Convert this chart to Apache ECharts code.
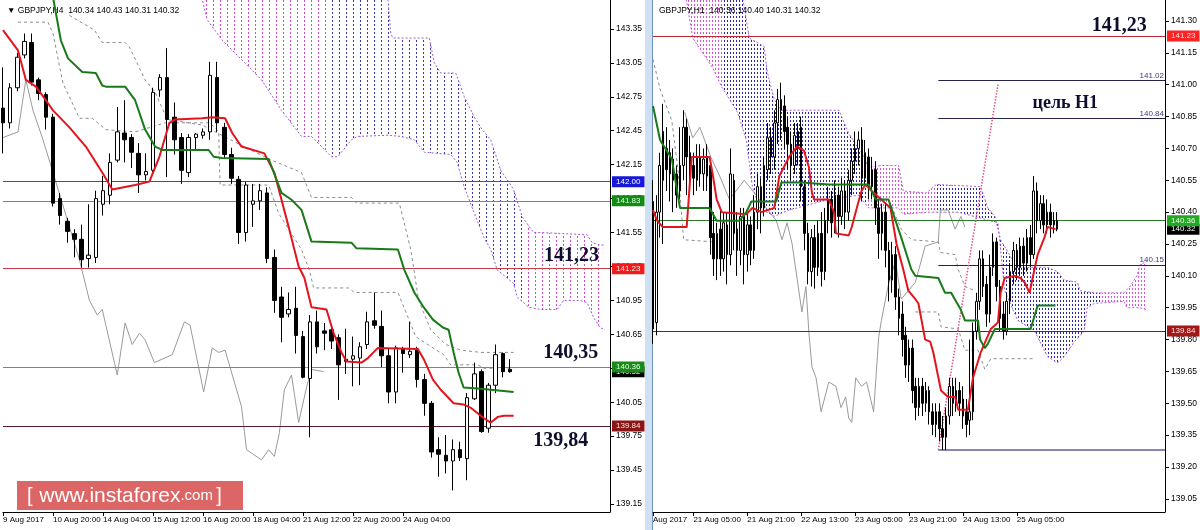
<!DOCTYPE html>
<html><head><meta charset="utf-8">
<script src="https://cdn.jsdelivr.net/npm/echarts@6/dist/echarts.min.js"></script>
<style>html,body{margin:0;padding:0;background:#fff}#c{width:1200px;height:530px}</style>
</head><body><div id="c"></div>
<script>
// ---------- LEFT PANEL (H4) ----------
const leftTickIdx = [0,7,14,21,28,35,42,49,56];
const leftTickText = ['9 Aug 2017','10 Aug 20:00','14 Aug 04:00','15 Aug 12:00','16 Aug 20:00','18 Aug 04:00','21 Aug 12:00','22 Aug 20:00','24 Aug 04:00'];
const leftYTicks = [139.15,139.45,139.75,140.05,140.35,140.65,140.95,141.25,141.55,141.85,142.15,142.45,142.75,143.05,143.35];
// [open, close, low, high]
const leftCandles = [
[142.65,142.52,142.25,143.01],[142.52,142.83,142.47,142.87],[142.83,143.10,142.80,143.14],[143.12,143.24,143.09,143.31],
[143.23,142.88,142.85,143.31],[142.90,142.78,142.72,142.92],[142.77,142.57,142.46,142.79],[142.57,141.81,141.78,142.60],
[141.85,141.70,141.62,141.90],[141.65,141.56,141.46,141.68],[141.54,141.49,141.33,141.58],[141.49,141.31,141.24,141.62],
[141.32,141.35,141.24,141.80],[141.33,141.85,141.28,141.92],[141.80,141.92,141.70,142.05],[141.88,142.17,141.80,142.25],
[142.19,142.44,142.17,142.66],[142.43,142.37,142.17,142.72],[142.39,142.26,142.12,142.42],[142.25,142.06,141.90,142.34],
[142.06,142.09,142.01,142.25],[142.10,142.79,142.08,142.83],[142.81,142.92,142.75,142.95],[142.92,142.55,142.04,143.18],
[142.57,142.37,142.24,142.70],[142.39,142.10,141.98,142.43],[142.08,142.39,142.04,142.42],[142.39,142.42,142.28,142.43],
[142.41,142.44,142.38,142.47],[142.44,142.94,142.37,143.06],[142.92,142.52,142.44,143.06],[142.48,142.24,142.20,142.52],
[142.24,142.03,141.98,142.30],[142.02,141.55,141.45,142.05],[141.55,141.97,141.47,142.00],[141.80,141.83,141.60,141.98],
[141.83,141.92,141.75,141.98],[141.90,141.32,141.28,141.95],[141.33,140.95,140.84,141.40],[140.98,140.80,140.58,141.07],
[140.83,140.87,140.80,141.02],[140.88,140.64,140.48,141.07],[140.63,140.27,140.26,140.68],[140.26,140.76,139.74,140.82],
[140.76,140.54,140.48,140.86],[140.68,140.66,140.51,140.75],[140.69,140.59,140.52,140.72],[140.62,140.38,140.07,140.65],
[140.41,140.43,140.30,140.70],[140.43,140.46,140.19,140.63],[140.44,140.54,140.20,140.58],[140.56,140.76,140.52,140.85],
[140.77,140.73,140.70,141.02],[140.72,140.46,140.36,140.86],[140.46,140.14,140.04,140.52],[140.14,140.53,140.04,140.55],
[140.52,140.48,140.31,140.54],[140.47,140.50,140.44,140.76],[140.51,140.25,140.18,140.54],[140.25,140.04,139.93,140.30],
[140.04,139.61,139.56,140.06],[139.63,139.59,139.39,139.74],[139.58,139.53,139.42,139.76],[139.53,139.63,139.27,139.72],
[139.63,139.56,139.53,139.70],[139.55,140.09,139.36,140.13],[140.08,140.30,140.07,140.40],[140.32,139.79,139.78,140.34],
[139.82,140.20,139.78,140.22],[140.20,140.47,140.13,140.56],[140.48,140.32,140.27,140.49],[140.34,140.32,140.31,140.43]
];
const leftTenkan = [[0,143.34],[2.1,143.16],[3.2,142.90],[4.6,142.84],[6.0,142.72],[7.0,142.63],[9.3,142.48],[11.6,142.31],[13.9,142.08],[15.3,141.93],[18.5,141.97],[20.5,142.00],[21.9,142.22],[23.3,142.52],[24.1,142.55],[27.9,142.56],[29.3,142.57],[31.1,142.56],[32.1,142.43],[33.4,142.31],[36.6,142.25],[38.0,142.08],[39.0,141.84],[40.0,141.60],[41.4,141.25],[42.2,141.15],[43.2,140.89],[45.3,140.87],[46.3,140.66],[47.4,140.49],[48.1,140.41],[50.2,140.40],[51.1,140.44],[52.5,140.53],[58.1,140.52],[59.0,140.42],[60.2,140.25],[61.3,140.16],[63.1,140.04],[64.5,140.03],[65.5,140.00],[67.3,139.91],[68.3,139.87],[69.3,139.92],[70.1,139.93],[71.5,139.93]];
const leftKijun = [[6.8,143.70],[8.1,143.25],[9.1,143.09],[11.1,142.97],[13.0,142.96],[13.9,142.85],[14.4,142.84],[17.1,142.84],[18.5,142.72],[19.9,142.46],[21.3,142.31],[22.3,142.28],[28.8,142.28],[29.5,142.22],[30.7,142.21],[37.2,142.20],[39.0,141.90],[40.4,141.84],[41.8,141.75],[43.2,141.47],[48.8,141.46],[49.5,141.41],[55.3,141.40],[56.2,141.22],[57.6,141.02],[58.9,140.89],[60.2,140.78],[61.6,140.71],[62.4,140.69],[63.1,140.49],[63.8,140.31],[64.5,140.18],[66.5,140.17],[68.3,140.16],[71.5,140.14]];
const leftChikou = [[0,142.39],[2.1,142.44],[3.2,142.90],[4.2,142.63],[5.6,142.37],[7.0,142.08],[10.7,141.31],[12.1,140.95],[13.2,140.82],[13.9,140.87],[16.0,140.29],[17.1,140.75],[18.1,140.56],[19.1,140.66],[19.9,140.60],[21.2,140.40],[23.7,140.47],[25.4,140.76],[26.2,140.73],[28.1,140.14],[29.3,140.53],[30.2,140.49],[31.1,140.51],[33.4,140.01],[34.1,139.63],[36.2,139.54],[37.2,139.63],[38.0,139.57],[38.7,139.78],[39.4,140.16],[40.4,140.29],[41.4,139.87],[42.5,140.18],[43.2,140.34],[44.9,140.32]];
const leftDashA = [[2.1,143.41],[6.3,143.41],[7.0,143.31],[8.4,142.87],[10.7,142.56],[12.5,142.56],[14.4,142.46],[18.5,142.44],[22.7,142.52],[29.0,142.52],[30.2,142.44],[30.4,141.97],[37.2,141.97],[38.6,141.72],[41.8,141.40],[42.9,141.22],[43.5,141.06],[48.4,141.06],[49.2,141.02],[55.3,141.02],[56.2,140.88],[57.8,140.63],[58.5,140.60],[61.7,140.47],[62.7,140.38],[66.5,140.38],[67.3,140.35],[71.5,140.35]];
const leftDashB = [[9.3,143.47],[12.8,143.34],[13.9,143.23],[17.1,143.23],[17.7,143.19],[19.9,142.90],[21.3,142.79],[23.0,142.55],[27.9,142.50],[33.4,142.32],[37.6,142.19],[41.8,142.08],[43.2,141.86],[48.8,141.86],[49.5,141.81],[55.5,141.81],[57.1,141.40],[58.2,140.95],[59.9,140.69],[62.0,140.56],[64.1,140.51],[66.9,140.49],[71.5,140.49]];
const leftKumoUpper = [[27.5,143.95],[53.5,143.95],[53.9,143.61],[54.3,143.31],[54.6,143.27],[59.7,143.27],[60.4,143.05],[61.3,142.96],[63.4,142.96],[64.6,142.75],[66.0,142.57],[67.1,142.46],[68.3,142.37],[69.7,142.10],[70.8,142.00],[71.5,141.93],[72.7,141.69],[74.3,141.55],[75.3,141.55],[81.8,141.53],[82.5,141.46],[83.6,141.44],[84.3,141.44]];
const leftKumoLower = [[27.5,143.95],[27.9,143.61],[28.6,143.43],[30.7,143.25],[33.4,143.08],[36.2,142.90],[39.0,142.63],[41.8,142.40],[43.2,142.40],[44.6,142.31],[46.0,142.22],[46.9,142.22],[48.8,142.37],[49.7,142.40],[53.9,142.41],[55.7,142.40],[57.6,142.37],[59.0,142.26],[62.7,142.24],[63.6,142.17],[64.6,141.95],[66.0,141.72],[67.4,141.50],[68.3,141.40],[69.2,141.22],[71.5,141.10],[72.0,140.98],[73.6,140.89],[75.3,140.87],[77.6,140.87],[78.5,140.95],[80.8,140.95],[81.8,140.93],[82.7,140.80],[83.6,140.71],[84.3,140.69]];
const leftKumoSegs = [[27,46,'m'],[46,73,'b'],[73,86,'m']];
const leftLevels = [142.00,141.83,141.23,140.32,140.36,139.84];

// ---------- RIGHT PANEL (H1) ----------
const rightTickIdx = [0,12,28,44,60,76,92,108];
const rightTickText = ['Aug 2017','21 Aug 05:00','21 Aug 21:00','22 Aug 13:00','23 Aug 05:00','23 Aug 21:00','24 Aug 13:00','25 Aug 05:00'];
const rightYTicks = [139.05,139.20,139.35,139.50,139.65,139.80,139.95,140.10,140.25,140.40,140.55,140.70,140.85,141.00,141.15,141.30];
const rightCandles = [
[140.45,139.85,139.78,140.55],[139.88,140.40,139.82,140.48],[140.40,140.62,140.28,140.68],[140.78,140.55,140.25,140.91],
[140.70,140.60,140.50,140.80],[140.58,140.68,140.45,140.74],[140.65,140.55,140.40,140.70],[140.58,140.48,140.42,140.62],
[140.50,140.62,140.46,140.80],[140.62,140.80,140.55,140.88],[140.80,140.66,140.48,140.84],[140.68,140.60,140.52,140.76],
[140.62,140.56,140.48,140.68],[140.55,140.66,140.50,140.72],[140.66,140.58,140.52,140.72],[140.58,140.65,140.50,140.70],
[140.66,140.57,140.50,140.72],[140.62,140.28,140.20,140.65],[140.30,140.18,140.10,140.40],[140.18,140.30,140.08,140.35],
[140.32,140.18,140.10,140.42],[140.18,140.35,140.12,140.40],[140.34,140.20,140.06,140.40],[140.20,140.58,140.15,140.70],
[140.55,140.30,140.22,140.58],[140.32,140.22,140.10,140.40],[140.22,140.38,140.15,140.42],[140.38,140.20,140.06,140.42],
[140.20,140.34,140.12,140.40],[140.34,140.22,140.15,140.38],[140.22,140.40,140.18,140.48],[140.40,140.52,140.32,140.58],
[140.52,140.42,140.30,140.56],[140.42,140.62,140.38,140.66],[140.60,140.75,140.55,140.82],[140.75,140.66,140.58,140.80],
[140.66,140.82,140.60,140.88],[140.82,140.93,140.72,140.98],[140.93,140.88,140.74,141.01],[140.90,140.78,140.70,140.95],
[140.80,140.72,140.60,140.85],[140.72,140.62,140.55,140.78],[140.62,140.76,140.58,140.82],[140.78,140.70,140.62,140.82],
[140.80,140.52,140.45,140.85],[140.52,140.30,140.22,140.55],[140.30,140.12,140.06,140.35],[140.12,140.28,140.05,140.32],
[140.28,140.14,140.04,140.34],[140.14,140.30,140.10,140.36],[140.30,140.12,140.05,140.40],[140.12,140.36,140.08,140.42],
[140.36,140.46,140.30,140.52],[140.46,140.35,140.28,140.50],[140.35,140.48,140.30,140.55],[140.48,140.38,140.28,140.52],
[140.38,140.50,140.34,140.56],[140.50,140.40,140.32,140.55],[140.40,140.55,140.36,140.60],[140.55,140.64,140.48,140.70],
[140.64,140.70,140.58,140.78],[140.70,140.74,140.62,140.78],[140.74,140.56,140.45,140.80],[140.56,140.68,140.52,140.74],
[140.66,140.52,140.46,140.70],[140.52,140.60,140.46,140.66],[140.60,140.42,140.34,140.64],[140.42,140.30,140.18,140.46],
[140.30,140.40,140.22,140.44],[140.40,140.22,140.14,140.44],[140.22,140.08,139.98,140.26],[140.08,140.20,140.02,140.26],
[140.20,140.00,139.94,140.24],[140.00,139.90,139.82,140.04],[139.92,139.80,139.72,139.98],[139.82,139.68,139.62,139.86],
[139.68,139.76,139.60,139.80],[139.76,139.56,139.50,139.80],[139.58,139.48,139.42,139.62],[139.48,139.58,139.44,139.62],
[139.58,139.50,139.44,139.62],[139.50,139.56,139.46,139.60],[139.56,139.46,139.40,139.58],[139.46,139.40,139.35,139.50],
[139.40,139.46,139.34,139.50],[139.46,139.38,139.32,139.50],[139.38,139.34,139.28,139.44],[139.34,139.44,139.28,139.48],
[139.44,139.58,139.40,139.62],[139.58,139.50,139.44,139.62],[139.50,139.56,139.46,139.62],[139.56,139.50,139.44,139.60],
[139.52,139.44,139.38,139.58],[139.46,139.40,139.34,139.52],[139.42,139.46,139.35,139.80],[139.46,139.84,139.42,139.88],
[139.84,139.98,139.80,140.02],[139.98,140.18,139.94,140.22],[140.18,140.05,140.00,140.22],[140.06,139.92,139.86,140.10],
[139.92,140.14,139.88,140.20],[140.14,140.26,140.10,140.30],[140.26,140.05,139.98,140.28],[140.05,139.90,139.84,140.08],
[139.92,139.84,139.80,139.98],[139.84,139.98,139.82,140.02],[139.98,140.12,139.92,140.16],[140.12,140.22,140.06,140.26],
[140.22,140.14,140.08,140.25],[140.14,140.24,140.10,140.28],[140.24,140.16,140.10,140.28],[140.16,140.28,140.12,140.32],
[140.28,140.20,140.14,140.34],[140.20,140.50,140.18,140.57],[140.50,140.36,140.30,140.54],[140.36,140.44,140.32,140.48],
[140.44,140.34,140.30,140.48],[140.34,140.40,140.30,140.46],[140.40,140.34,140.28,140.44],[140.36,140.34,140.30,140.40],
[140.36,140.32,140.31,140.40]
];
const rightTenkan = [[0,140.41],[1.2,140.36],[2.9,140.33],[10.0,140.33],[11.5,140.66],[16.8,140.66],[17.7,140.58],[18.9,140.46],[20.4,140.40],[27.7,140.39],[29.5,140.42],[32.2,140.40],[36.0,140.42],[37.5,140.57],[40.4,140.66],[42.8,140.71],[44.8,140.69],[46.3,140.61],[47.2,140.49],[47.8,140.46],[52.2,140.46],[53.7,140.40],[54.3,140.30],[58.1,140.29],[59.0,140.33],[60.5,140.42],[61.9,140.50],[63.1,140.53],[64.9,140.50],[67.8,140.46],[70.5,140.42],[72.3,140.25],[74.3,140.13],[75.8,140.03],[77.9,139.99],[78.8,139.97],[80.8,139.80],[82.3,139.79],[83.2,139.74],[85.5,139.56],[87.6,139.53],[89.7,139.53],[90.6,139.47],[93.5,139.47],[95.0,139.62],[97.3,139.74],[100.3,139.85],[102.4,139.88],[103.2,140.02],[104.4,140.09],[107.4,140.10],[109.1,140.09],[110.3,140.07],[111.8,140.02],[112.7,140.09],[114.2,140.20],[116.2,140.28],[117.1,140.33],[119.5,140.32]];
const rightKijun = [[0,140.90],[2.1,140.74],[5.6,140.65],[8.0,140.42],[16.8,140.42],[18.9,140.36],[25.7,140.36],[27.7,140.40],[29.2,140.45],[36.6,140.45],[38.1,140.54],[44.2,140.54],[52.2,140.53],[64.0,140.53],[66.1,140.46],[69.9,140.46],[72.0,140.36],[73.7,140.28],[76.7,140.13],[77.9,140.10],[84.7,140.09],[86.7,140.02],[88.5,140.02],[91.4,139.94],[92.6,139.89],[96.5,139.89],[97.1,139.80],[98.5,139.76],[99.4,139.78],[101.5,139.85],[112.1,139.85],[114.2,139.96],[119.5,139.96]];
const rightChikou = [[9.4,140.87],[11.8,140.75],[13.9,140.80],[15.3,140.74],[17.4,140.65],[19.8,140.57],[22.7,140.46],[27.1,140.55],[31.6,140.46],[36.6,140.36],[38.3,140.27],[39.8,140.35],[41.3,140.25],[44.2,139.93],[45.4,140.05],[46.3,139.83],[47.2,139.67],[48.4,139.62],[49.9,139.46],[52.2,139.60],[54.3,139.58],[55.8,139.48],[57.2,139.53],[58.1,139.43],[59.0,139.41],[60.2,139.62],[61.9,139.58],[63.4,139.60],[65.5,139.46],[67.0,139.81],[67.8,139.89],[69.9,140.06],[72.0,140.17],[73.7,139.99],[75.8,140.03],[77.9,140.07],[80.8,140.24],[84.7,140.26],[85.3,140.41],[87.6,140.41],[89.7,140.32],[91.4,140.38],[92.6,140.33]];
const rightDashA = [[0,141.12],[2.1,140.98],[5.6,140.83],[7.4,140.60],[9.1,140.27],[18.0,140.26]];
const rightDashB = [[70.8,140.43],[73.7,140.32],[76.7,140.27],[84.7,140.26],[85.3,140.21],[89.7,140.20],[90.6,140.13],[92.6,140.05],[95.6,140.03]];
const rightDashC = [[77.9,139.93],[84.7,139.93],[85.5,139.86],[90.6,139.85],[92.6,139.75],[96.5,139.75],[98.5,139.66],[100.3,139.71],[112.7,139.71]];
const rightKumoUpper = [[9.7,141.42],[26.5,141.42],[28.6,141.22],[33.0,141.18],[33.9,141.06],[36.0,140.93],[38.1,140.88],[55.2,140.88],[58.1,140.77],[61.9,140.68],[64.0,140.61],[67.8,140.62],[72.9,140.62],[74.3,140.50],[81.1,140.49],[84.1,140.53],[97.3,140.52],[99.4,140.42],[101.5,140.38],[103.2,140.27],[106.2,140.19],[107.4,140.14],[113.3,140.14],[117.1,140.14],[120.1,140.12],[122.1,140.08],[126.0,140.07],[126.8,140.03],[131.0,140.02],[139.8,140.02],[141.6,140.05],[143.7,140.10],[144.5,140.15],[146.6,140.17]];
const rightKumoLower = [[9.7,141.42],[11.8,141.22],[17.7,141.08],[20.4,140.99],[25.1,140.87],[27.7,140.74],[29.5,140.52],[31.6,140.42],[36.0,140.38],[40.4,140.41],[52.2,140.46],[61.1,140.48],[64.0,140.42],[72.9,140.42],[74.3,140.39],[81.7,140.40],[84.7,140.40],[90.6,140.40],[102.4,140.35],[104.4,140.03],[108.3,139.89],[113.3,139.84],[117.1,139.72],[120.1,139.69],[122.1,139.72],[125.1,139.79],[128.0,139.84],[128.9,139.95],[131.0,139.97],[139.8,139.98],[140.7,139.95],[144.5,139.95],[146.6,139.94]];
const rightKumoSegs = [[9,21,'m'],[21,64,'b'],[64,84,'m'],[84,133,'b'],[133,148,'m']];
const rightLevels = [141.23,140.32,140.36,139.84];
const rightTargets = [141.02,140.84,140.15];
const rightSupport = 139.28;
const rightTrendFrom = [84.7,139.28], rightTrendTo = [102.4,141.00];
const rightLevelStart = 84.7;

const LN = 86, RN = 153;
const leftCats = Array.from({length: LN}, (_, i) => String(i));
const rightCats = Array.from({length: RN}, (_, i) => String(i));

function makePattern(color, w, h, dx, dw, dh) {
  const c = document.createElement('canvas'); c.width = w; c.height = h;
  const g = c.getContext('2d'); g.fillStyle = color; g.fillRect(dx, 0, dw, dh);
  return { image: c, repeat: 'repeat' };
}
function clipX(poly, x1, x2) {
  function clip(pts, inside, X) {
    const out = [];
    for (let i = 0; i < pts.length; i++) {
      const cur = pts[i], prev = pts[(i + pts.length - 1) % pts.length];
      const ci = inside(cur), pi = inside(prev);
      const inter = () => { const t = (X - prev[0]) / (cur[0] - prev[0]); return [X, prev[1] + t * (cur[1] - prev[1])]; };
      if (ci) { if (!pi) out.push(inter()); out.push(cur); }
      else if (pi) out.push(inter());
    }
    return out;
  }
  let r = clip(poly, p => p[0] >= x1, x1);
  if (r.length) r = clip(r, p => p[0] <= x2, x2);
  return r;
}
function kumo(xi, yi, upper, lower, segs, pats, strokeCol) {
  return {
    type: 'custom', xAxisIndex: xi, yAxisIndex: yi, clip: true, silent: true, z: 1,
    data: [[0, 140]],
    renderItem: function (params, api) {
      const up = upper.map(p => api.coord(p));
      const lo = lower.map(p => api.coord(p));
      const poly = up.concat(lo.slice().reverse());
      const ch = [];
      segs.forEach(s => {
        const x1 = api.coord([s[0], 140])[0], x2 = api.coord([s[1], 140])[0];
        const pts = clipX(poly, x1, x2);
        if (pts.length > 2) ch.push({ type: 'polygon', shape: { points: pts }, style: { fill: pats[s[2]], stroke: null } });
      });
      ch.push({ type: 'polyline', shape: { points: up }, style: { stroke: strokeCol, lineWidth: 1, lineDash: [2, 2], fill: null } });
      ch.push({ type: 'polyline', shape: { points: lo }, style: { stroke: strokeCol, lineWidth: 1, lineDash: [2, 2], fill: null } });
      return { type: 'group', children: ch };
    }
  };
}
function lineS(xi, yi, data, color, width, type, z) {
  return { type: 'line', xAxisIndex: xi, yAxisIndex: yi, data: data, symbol: 'none', silent: true, z: z || 4,
    lineStyle: { color: color, width: width, type: type || 'solid' } };
}
const FONT = 'Liberation Sans';
function tag(v, st) {
  return { yAxis: v, lineStyle: { color: st[3] ? 'rgba(0,0,0,0)' : st[0], width: 1, type: 'solid' },
    label: { show: true, position: 'end', distance: 2, formatter: v.toFixed(2), backgroundColor: st[1], color: st[2],
      fontSize: 8, fontFamily: FONT, padding: [2, 4, 1, 4], opacity: 1 } };
}
function note(coord, text, size) {
  return { coord: coord, name: text, symbol: 'rect', symbolSize: 1, itemStyle: { color: 'rgba(0,0,0,0)' },
    label: { show: true, position: 'inside', formatter: text, fontFamily: 'Liberation Serif', fontWeight: 'bold',
      fontSize: size || 20, color: '#0d0d2e' } };
}

const leftTagStyle = {
  '142.00': ['#4a4aa6', '#1818d8', '#fff'], '141.83': ['#4aa64a', '#138a13', '#d8ffd8'], '141.23': ['#c83a4a', '#ee1c1c', '#ffe0e0'],
  '140.32': ['#000', '#000', '#fff', true], '140.36': ['#6e8e74', '#1a8a1a', '#e0ffe0'], '139.84': ['#5a1a2a', '#8b1515', '#ffe0e0']
};
const rightTagStyle = {
  '141.23': ['#c02838', '#ff2222', '#ffe0e0'], '140.32': ['#000', '#000', '#fff', true], '140.36': ['#2a7a2a', '#22a822', '#e8ffe8'], '139.84': ['#7a1a26', '#a01818', '#ffe0e0']
};

const pL = { m: makePattern('#d24ad2', 7, 4, 3, 1, 2), b: makePattern('#3b35b8', 7, 4, 3, 1, 2) };
const pR = { m: makePattern('#e04ce0', 3, 4, 1, 1, 2), b: makePattern('#2424b0', 3, 4, 1, 1, 2) };

function xCat(grid, cats, idx, txt) {
  const f = (i) => idx.indexOf(i) >= 0;
  return { type: 'category', gridIndex: grid, data: cats, boundaryGap: false,
    axisLine: { onZero: false, lineStyle: { color: '#000', width: 1 } },
    axisTick: { show: true, interval: f, length: 4, lineStyle: { color: '#000' } },
    axisLabel: { interval: f, align: 'left', margin: 4, color: '#000', fontSize: 8, fontFamily: FONT,
      formatter: (v) => { const k = idx.indexOf(Number(v)); return k >= 0 ? txt[k] : ''; } },
    splitLine: { show: false } };
}
function yVal(grid, min, max, ticks) {
  return { type: 'value', gridIndex: grid, position: 'right', min: min, max: max,
    axisLine: { show: true, onZero: false, lineStyle: { color: '#000', width: 1 } },
    axisTick: { show: true, length: 4, customValues: ticks, lineStyle: { color: '#000' } },
    axisLabel: { customValues: ticks, margin: 6, color: '#000', fontSize: 8.5, fontFamily: FONT, formatter: v => v.toFixed(2) },
    splitLine: { show: false } };
}

const option = {
  animation: false,
  backgroundColor: '#fff',
  title: [
    { text: '\u25BC GBPJPY,H4  140.34 140.43 140.31 140.32', left: 2, top: 1, textStyle: { fontSize: 8.5, fontWeight: 'normal', fontFamily: FONT, color: '#000' } },
    { text: 'GBPJPY,H1  140.36 140.40 140.31 140.32', left: 654, top: 1, textStyle: { fontSize: 8.5, fontWeight: 'normal', fontFamily: FONT, color: '#000' } }
  ],
  grid: [
    { left: 0, top: 0, width: 610, height: 512 },
    { left: 653, top: 0, width: 515, height: 512 }
  ],
  xAxis: [
    xCat(0, leftCats, leftTickIdx, leftTickText),
    { type: 'value', gridIndex: 0, min: 0, max: LN - 1, show: false, axisLine: { onZero: false } },
    xCat(1, rightCats, rightTickIdx, rightTickText),
    { type: 'value', gridIndex: 1, min: 0, max: RN - 1, show: false, axisLine: { onZero: false } }
  ],
  yAxis: [
    yVal(0, 139.079, 143.606, leftYTicks),
    yVal(1, 138.988, 141.399, rightYTicks)
  ],
  series: [
    kumo(1, 0, leftKumoUpper, leftKumoLower, leftKumoSegs, pL, '#9a5ad0'),
    kumo(3, 1, rightKumoUpper, rightKumoLower, rightKumoSegs, pR, '#b060d0'),
    {
      type: 'line', xAxisIndex: 1, yAxisIndex: 0, data: [], clip: false, z: 2, silent: true,
      markLine: { symbol: ['none', 'none'], silent: true, animation: false,
        data: leftLevels.map(v => tag(v, leftTagStyle[v.toFixed(2)])) },
      markPoint: { silent: true, data: [note([79.6, 141.343], '141,23'), note([79.5, 140.485], '140,35'), note([78.1, 139.707], '139,84')] }
    },
    {
      type: 'line', xAxisIndex: 3, yAxisIndex: 1, data: [], clip: false, z: 2, silent: true,
      markLine: { symbol: ['none', 'none'], silent: true, animation: false,
        data: rightLevels.map(v => tag(v, rightTagStyle[v.toFixed(2)]))
          .concat(rightTargets.map(v => [
            { coord: [rightLevelStart, v], lineStyle: { color: '#24244e', width: 1, type: 'solid' },
              label: { show: true, position: 'insideEndTop', formatter: v.toFixed(2), color: '#3a3a80', fontSize: 8, fontFamily: FONT, distance: 1 } },
            { coord: [RN - 1, v] }]))
          .concat([[{ coord: [rightLevelStart, rightSupport], lineStyle: { color: '#8886b6', width: 2, type: 'solid' }, label: { show: false } }, { coord: [RN - 1, rightSupport] }],
                   [{ coord: rightTrendFrom, lineStyle: { color: '#e0508c', width: 1.5, type: 'dotted' }, label: { show: false } }, { coord: rightTrendTo }]]) },
      markPoint: { silent: true, data: [note([138.4, 141.277], '141,23'), note([122.4, 140.914], 'цель H1', 18)] }
    },
    lineS(1, 0, leftDashA, '#8c8c8c', 1, [3, 3], 3),
    lineS(1, 0, leftDashB, '#8c8c8c', 1, [3, 3], 3),
    lineS(1, 0, leftChikou, '#9a9a9a', 1, 'solid', 3),
    lineS(3, 1, rightDashA, '#8c8c8c', 1, [3, 3], 3),
    lineS(3, 1, rightDashB, '#8c8c8c', 1, [3, 3], 3),
    lineS(3, 1, rightDashC, '#8c8c8c', 1, [3, 3], 3),
    lineS(3, 1, rightChikou, '#9a9a9a', 1, 'solid', 3),
    { type: 'candlestick', xAxisIndex: 0, yAxisIndex: 0, data: leftCandles, barWidth: 4, z: 5, silent: true,
      itemStyle: { color: '#fff', color0: '#000', borderColor: '#000', borderColor0: '#000', borderWidth: 1 } },
    { type: 'candlestick', xAxisIndex: 2, yAxisIndex: 1, data: rightCandles, barWidth: 2, z: 5, silent: true,
      itemStyle: { color: '#fff', color0: '#000', borderColor: '#000', borderColor0: '#000', borderWidth: 1 } },
    lineS(1, 0, leftTenkan, '#e3141e', 2, 'solid', 6),
    lineS(1, 0, leftKijun, '#187a18', 2, 'solid', 6),
    lineS(3, 1, rightTenkan, '#e3141e', 2, 'solid', 6),
    lineS(3, 1, rightKijun, '#187a18', 2, 'solid', 6)
  ],
  graphic: [
    { type: 'rect', left: 645, top: 0, shape: { width: 7, height: 530 }, style: { fill: '#cfe0f2' }, silent: true },
    { type: 'line', shape: { x1: 652.5, y1: 0, x2: 652.5, y2: 530 }, style: { stroke: '#6f93c4', lineWidth: 1 }, silent: true },
    { type: 'group', silent: true, children: [
      { type: 'rect', shape: { x: 17, y: 481, width: 226, height: 29 }, style: { fill: 'rgba(214,74,74,0.85)' } },
      { type: 'text', x: 27, y: 496, style: { text: '{a|[}  {b|www.instaforex}{c|.com} {a|]}', verticalAlign: 'middle', fill: '#fff',
        rich: { a: { fontSize: 20, fontFamily: FONT, fill: '#fff' }, b: { fontSize: 21, fontFamily: FONT, fill: '#fff' }, c: { fontSize: 15, fontFamily: FONT, fill: '#fff' } } } }
    ] }
  ]
};
const chart = echarts.init(document.getElementById('c'), null, { renderer: 'canvas' });
chart.setOption(option);
</script></body></html>
